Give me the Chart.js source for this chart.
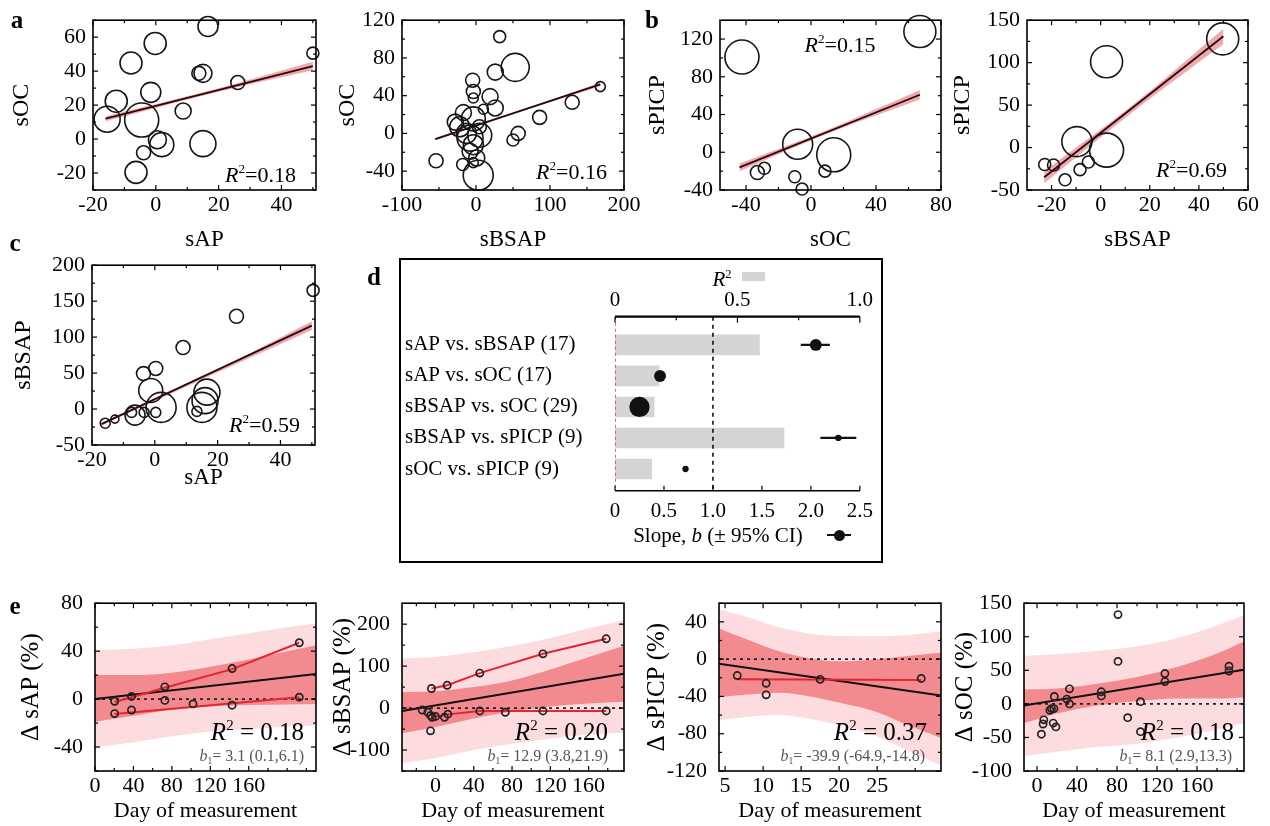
<!DOCTYPE html>
<html><head><meta charset="utf-8">
<script src="https://cdn.jsdelivr.net/npm/chart.js@4/dist/chart.umd.min.js"></script>
<style>
body{margin:0;background:#fff;}
#root{position:relative;width:1270px;height:826px;overflow:hidden;background:#fff;font-family:'Liberation Serif','Times New Roman',Times,serif;color:#000;}
canvas{position:absolute;}
.t{position:absolute;white-space:nowrap;line-height:1;}
.sup{font-size:0.6em;position:relative;top:-0.65em;}
.sub{font-size:0.6em;position:relative;top:0.3em;}
</style></head><body><div id="root"></div>
<script>
// ================= DATA =================
// a (left): sAP vs sOC
const a1_sAP = [-15.5,-12.6,-7.9,-0.2,-1.6,-4.5,0.5,1.9,-3.9,-6.3,8.7,13.7,15,15,16.6,26.1,50];
const a1_sOC = [11.7,22.3,44.8,56.3,27.5,11.2,-0.4,-3.3,-8.1,-19.6,16.5,38.7,38.7,-2.7,66.3,33.3,50.6];
const a1_wt  = [6.5,5.5,5.5,5.5,5,8.5,4.5,6,3.5,5.5,4,3.5,4.5,6.5,5,3.5,3];
const a1_fitX = [-16,50], a1_fitY = [12,43];
const a1_bandX = [-16,17,50], a1_bandLo = [10.5,26.6,40.5], a1_bandHi = [13.5,28.4,45.5];
// a (right): sBSAP vs sOC
const a2_sBSAP = [-54,32,53,26,-4.5,-3.6,-3.6,19,26,-17,-3.6,-28,-22,-13,5,-8,-3.6,-8,1,-18,-3.6,3,50,57,86,130,168,4.5,10];
const a2_sOC   = [-29,102.6,70,65,56.4,44.4,37.6,39,27,22,15.4,12,7,0,-2,-5,-12,-19,-26,-33,-31,-44.4,-7,0,17,33,49.6,7,25.6];
const a2_wt    = [3.5,3,7,4,3.5,3.5,2.5,4,4,4,6,4,5,5,6,6.5,5,4,4,3,2.5,7.5,3,3.5,3.5,3.5,2.5,3.5,2.5];
const a2_fitX = [-55,168], a2_fitY = [-6,52];
const a2_bandX = [-55,56,168], a2_bandLo = [-7.5,22.3,50], a2_bandHi = [-4.5,23.7,54];
// b (left): sOC vs sPICP
const b1_sOC   = [-42.5,67,-8.2,14,-33,-28.7,-10,-5.5,8.6];
const b1_sPICP = [101,128,8.5,-2.7,-21.5,-17,-26,-39,-20];
const b1_wt    = [8.5,8,7.5,8.5,3.5,3,3,3,3];
const b1_fitX = [-44,67], b1_fitY = [-16,61];
const b1_bandX = [-44,11,67], b1_bandLo = [-20,20.5,56], b1_bandHi = [-12,24.5,66];
// b (right): sBSAP vs sPICP
const b2_sBSAP = [2.4,49.7,-9.7,2.4,-22.8,-19.2,-5,-8.4,-14.5];
const b2_sPICP = [101,128,7,-3,-20,-20.5,-17,-26,-38];
const b2_wt    = [8,8,7.5,8.5,3,3,3,3,3];
const b2_fitX = [-23,50], b2_fitY = [-35,131];
const b2_bandX = [-23,13,50], b2_bandLo = [-42,42,122], b2_bandHi = [-28,50,140];
// c: sAP vs sBSAP
const c_sAP   = [-15.8,-12.7,-7.4,-6.3,-3.4,0.3,-3.6,0.3,-1.3,2,9,15,16,16.6,13.4,26,50.4];
const c_sBSAP = [-19.7,-14,-4.7,-8.5,-4.7,-4.7,49.3,56.4,25.8,2.3,85.5,2.3,11.7,23.5,-3.3,129,165];
const c_wt    = [2.5,2,2.5,5,2.5,2.5,3.5,3.5,6,7.5,3.5,7.5,6.5,6.5,2.5,3.5,3];
const c_fitX = [-17,50], c_fitY = [-21,116];
const c_bandX = [-17,16,50], c_bandLo = [-23,43,110], c_bandHi = [-19,46,122];
// d: summary of pairwise regressions
const d_pairs = ['sAP vs. sBSAP','sAP vs. sOC','sBSAP vs. sOC','sBSAP vs. sPICP','sOC vs. sPICP'];
const d_n     = [17,17,29,9,9];
const d_R2    = [0.59,0.18,0.16,0.69,0.15];
const d_slope = [2.05,0.46,0.25,2.28,0.72];
const d_lo    = [1.90,0.42,0.18,2.10,0.70];
const d_hi    = [2.19,0.50,0.32,2.46,0.74];
const d_row   = [1,2,3,4,5];
const d_slopeTicks = [0,0.5,1.0,1.5,2.0,2.5];
const d_r2Ticks = [0,0.5,1.0];
// e1: ΔsAP
const e1_day = [20.4,20.4,38,38,72.7,72.7,102,142.7,142.7,212.6,212.6];
const e1_val = [-1.9,-12.1,2.2,-9.1,10.2,-1.1,-4,25.5,-5.1,47,1.6];
const e1_s1Day = [20.4,38,72.7,142.7,212.6], e1_s1Val = [-2.5,1.5,9.5,25,47];
const e1_s2Day = [20.4,212.6], e1_s2Val = [-12.5,1.5];
const e1_fitDay = [0,230], e1_fitVal = [0,21];
const e1_bDay = [0,40,80,120,160,200,230];
const e1_ciLo = [-19,-14,-9,-6,-5,-4.5,-4];
const e1_ciHi = [20,20,22,27,33,40,45];
const e1_piLo = [-40,-36,-31,-27,-25,-23,-22];
const e1_piHi = [41,42,45,50,55,60,63];
// e2: ΔsBSAP
const e2_day = [-4.2,12.2,46.3,112.3,178.4,-13.9,-8,-5.2,-3.5,0,-5.2,9.4,12.9,46.3,73,112.3,178.4];
const e2_val = [46.7,54.3,83.4,129.3,165.2,-4.6,-10,-17.6,-22,-20,-54.3,-22,-14.5,-6.9,-10,-6.9,-6.9];
const e2_s1Day = [-4.2,12.2,46.3,112.3,178.4], e2_s1Val = [46.7,54.3,83.4,129.3,165.2];
const e2_s2Day = [-5,3,12.9,46.3,178.4], e2_s2Val = [-14,-20,-15,-7,-7];
const e2_fitDay = [-35,197], e2_fitVal = [-7,82];
const e2_bDay = [-35,0,40,80,120,160,197];
const e2_ciLo = [-60,-45,-25,-8,4,11,15];
const e2_ciHi = [38,40,50,66,92,122,148];
const e2_piLo = [-131,-119,-100,-85,-73,-63,-58];
const e2_piHi = [118,122,133,148,167,190,210];
// e3: ΔsPICP
const e3_day = [6.6,10.4,10.4,17.5,30.8];
const e3_val = [-17.6,-25.9,-38.3,-21.7,-20.7];
const e3_s1Day = [6.6,30.8], e3_s1Val = [-21.5,-22.5];
const e3_fitDay = [4.2,33.4], e3_fitVal = [-5,-39];
const e3_bDay = [4.2,8,12,16,20,25,29,33.4];
const e3_ciLo = [-41,-38,-36,-39.7,-46.6,-57,-70.7,-84.5];
const e3_ciHi = [32.8,20.7,8.6,1,-2.4,0,3.4,6.9];
const e3_piLo = [-65.5,-62,-60,-63.8,-70.7,-82.8,-98.3,-113.8];
const e3_piHi = [53.4,44.8,34.5,27.6,24.8,24.5,26,30];
// e4: ΔsOC
const e4_day = [4.4,6.1,6.8,12.9,14.5,16.9,17.3,16.2,18.9,29.8,32.5,32.5,64.3,64.3,81,81,90.7,103.5,103.5,127.9,127.9,192,192];
const e4_val = [-45.2,-30,-23.8,-9.5,-7,-7,11,-28.6,-34.3,7.1,22.4,0,18,11.9,133,63.3,-20.5,3.3,-41.4,45.2,33.3,56.2,49];
const e4_fitDay = [-13,207], e4_fitVal = [-2.4,51];
const e4_bDay = [-13,20,60,100,140,180,207];
const e4_ciLo = [-28.6,-14.3,-2.4,4,8,8,9.5];
const e4_ciHi = [21.4,23,30,40,55,75,93];
const e4_piLo = [-77.6,-71.4,-64.3,-59.5,-50,-38,-28.6];
const e4_piHi = [71.4,73.8,78.6,85.7,97.6,116.7,131.9];

// ================= DRAWING =================
const FONT = "'Liberation Serif','Times New Roman',Times,serif";
Chart.defaults.font.family = FONT;
Chart.defaults.color = '#000';
const root = document.getElementById('root');
const pts = (xs, ys) => xs.map((x, i) => ({x, y: ys[i]}));
const RED = '#e0262e', CI = '#f28a90', PI = '#fcdcde', BAND = 'rgba(236,140,150,0.75)';

const framePlugin = {
  id: 'frame',
  afterDraw(chart, args, o) {
    const ctx = chart.ctx, a = chart.chartArea;
    ctx.save(); ctx.strokeStyle = '#000';
    if (o.box) { ctx.lineWidth = o.lw || 1.5; ctx.strokeRect(a.left, a.top, a.right - a.left, a.bottom - a.top); }
    (o.lines || []).forEach(l => { ctx.lineWidth = l.w; ctx.beginPath(); const y = l.pos === 'top' ? a.top : a.bottom; ctx.moveTo(a.left, y); ctx.lineTo(a.right, y); ctx.stroke(); });
    ctx.lineWidth = 1.2;
    (o.sides || []).forEach(s => {
      const sc = chart.scales[s.scale];
      const mark = (v, len) => {
        const p = sc.getPixelForValue(v); ctx.beginPath();
        if (s.pos === 'bottom') { ctx.moveTo(p, a.bottom); ctx.lineTo(p, a.bottom - len); }
        else if (s.pos === 'top') { ctx.moveTo(p, a.top); ctx.lineTo(p, a.top + len); }
        else if (s.pos === 'left') { ctx.moveTo(a.left, p); ctx.lineTo(a.left + len, p); }
        else { ctx.moveTo(a.right, p); ctx.lineTo(a.right - len, p); }
        ctx.stroke();
      };
      (s.major || []).forEach(v => mark(v, s.len || 5));
      (s.minor || []).forEach(v => mark(v, (s.len || 5) * 0.6));
    });
    ctx.restore();
  }
};

function addCanvas(box) {
  const W = box[2] - box[0], H = box[3] - box[1];
  const cv = document.createElement('canvas'); cv.width = W; cv.height = H;
  Object.assign(cv.style, {left: box[0] + 'px', top: box[1] + 'px', width: W + 'px', height: H + 'px'});
  root.appendChild(cv); return cv;
}

function makeChart(o, datasets) {
  const cv = addCanvas(o.canvas);
  const L = o.plot[0] - o.canvas[0], T = o.plot[1] - o.canvas[1], R = o.canvas[2] - o.plot[2], B = o.canvas[3] - o.plot[3];
  const tick = {font: {size: o.tickSize || 22}, color: '#000', autoSkip: false, maxRotation: 0, minRotation: 0, callback: v => String(v)};
  const sides = [
    {scale: 'x', pos: 'bottom', major: o.xMajor, minor: o.xMinor}, {scale: 'x', pos: 'top', major: o.xMajor, minor: o.xMinor},
    {scale: 'y', pos: 'left', major: o.yMajor, minor: o.yMinor}, {scale: 'y', pos: 'right', major: o.yMajor, minor: o.yMinor}];
  return new Chart(cv, {type: 'line', data: {datasets}, plugins: [framePlugin], options: {
    responsive: false, animation: false, events: [], devicePixelRatio: 1,
    layout: {padding: {left: 0, top: T, right: R, bottom: 0}},
    plugins: {legend: {display: false}, tooltip: {enabled: false}, frame: {box: true, lw: 1.6, sides}},
    scales: {
      x: {type: 'linear', min: o.xr[0], max: o.xr[1], grid: {display: false, drawTicks: false}, border: {display: false},
        afterBuildTicks: s => { s.ticks = o.xMajor.map(v => ({value: v})); }, afterFit: s => { s.height = B; },
        ticks: Object.assign({}, tick, {padding: o.xPad ?? 2}),
        title: {display: true, text: o.xTitle, font: {size: o.xTitleSize || 23}, color: '#000', padding: {top: 0, bottom: o.xTitlePad ?? 2}}},
      y: {type: 'linear', min: o.yr[0], max: o.yr[1], grid: {display: false, drawTicks: false}, border: {display: false},
        afterBuildTicks: s => { s.ticks = o.yMajor.map(v => ({value: v})); }, afterFit: s => { s.width = L; },
        ticks: Object.assign({}, tick, {padding: o.yPad ?? 7}),
        title: {display: true, text: o.yTitle, font: {size: o.yTitleSize || 24}, color: '#000', padding: {top: o.yTitlePad ?? 4, bottom: 0}}}
    }
  }});
}

const circles = (xs, ys, ws) => ({data: pts(xs, ys), showLine: false, pointRadius: c => ws[c.dataIndex] * 2,
  pointBorderColor: '#161616', pointBorderWidth: 1.6, pointBackgroundColor: 'rgba(0,0,0,0)', clip: false});
const dots = (xs, ys) => ({data: pts(xs, ys), showLine: false, pointRadius: 3.6,
  pointBorderColor: '#222', pointBorderWidth: 1.7, pointBackgroundColor: 'rgba(0,0,0,0)', clip: false});
const line = (xs, ys, color, w, dash) => ({data: pts(xs, ys), borderColor: color, borderWidth: w, borderDash: dash || [], pointRadius: 0, fill: false, tension: 0});
const band = (xs, lo, hi, color) => [
  {data: pts(xs, hi), borderColor: 'rgba(0,0,0,0)', borderWidth: 0, pointRadius: 0, backgroundColor: color, fill: '+1', cubicInterpolationMode: 'monotone'},
  {data: pts(xs, lo), borderColor: 'rgba(0,0,0,0)', borderWidth: 0, pointRadius: 0, fill: false, cubicInterpolationMode: 'monotone'}];

function scatterPanel(o, xs, ys, ws, fx, fy, bx, blo, bhi) {
  makeChart(o, [circles(xs, ys, ws), line(fx, fy, '#2b0608', 1.8), ...band(bx, blo, bhi, BAND)]);
}

// ---- a ----
scatterPanel({canvas: [0, 0, 340, 255], plot: [93, 15, 316, 190], xr: [-20, 51], yr: [-30, 70],
  xMajor: [-20, 0, 20, 40], xMinor: [-10, 10, 30, 50], yMajor: [-20, 0, 20, 40, 60], yMinor: [-30, -10, 10, 30, 50, 70],
  xTitle: 'sAP', yTitle: 'sOC', yTitlePad: 7, xTitlePad: 1},
  a1_sAP, a1_sOC, a1_wt, a1_fitX, a1_fitY, a1_bandX, a1_bandLo, a1_bandHi);
scatterPanel({canvas: [328, 0, 648, 255], plot: [402, 15, 624, 190], xr: [-100, 200], yr: [-60, 120],
  xMajor: [-100, 0, 100, 200], xMinor: [-50, 50, 150], yMajor: [-40, 0, 40, 80, 120], yMinor: [-60, -20, 20, 60, 100],
  xTitle: 'sBSAP', yTitle: 'sOC', yTitlePad: 5, xTitlePad: 1},
  a2_sBSAP, a2_sOC, a2_wt, a2_fitX, a2_fitY, a2_bandX, a2_bandLo, a2_bandHi);
// ---- b ----
scatterPanel({canvas: [638, 0, 962, 255], plot: [720, 15, 941, 190], xr: [-56, 80], yr: [-40, 140],
  xMajor: [-40, 0, 40, 80], xMinor: [-20, 20, 60], yMajor: [-40, 0, 40, 80, 120], yMinor: [-20, 20, 60, 100],
  xTitle: 'sOC', yTitle: 'sPICP', yTitlePad: 5, xTitlePad: 1},
  b1_sOC, b1_sPICP, b1_wt, b1_fitX, b1_fitY, b1_bandX, b1_bandLo, b1_bandHi);
scatterPanel({canvas: [945, 0, 1270, 255], plot: [1027, 15, 1248, 190], xr: [-30, 60], yr: [-50, 150],
  xMajor: [-20, 0, 20, 40, 60], xMinor: [-10, 10, 30, 50], yMajor: [-50, 0, 50, 100, 150], yMinor: [-25, 25, 75, 125],
  xTitle: 'sBSAP', yTitle: 'sPICP', yTitlePad: 3, xTitlePad: 1},
  b2_sBSAP, b2_sPICP, b2_wt, b2_fitX, b2_fitY, b2_bandX, b2_bandLo, b2_bandHi);
// ---- c ----
scatterPanel({canvas: [0, 245, 340, 495], plot: [92, 263, 315, 445], xr: [-20, 51], yr: [-50, 200],
  xMajor: [-20, 0, 20, 40], xMinor: [-10, 10, 30, 50], yMajor: [-50, 0, 50, 100, 150, 200], yMinor: [-25, 25, 75, 125, 175],
  xTitle: 'sAP', yTitle: 'sBSAP', yTitlePad: 9, xTitlePad: 3},
  c_sAP, c_sBSAP, c_wt, c_fitX, c_fitY, c_bandX, c_bandLo, c_bandHi);

// ---- e ----
function ePanel(o, day, val, studies, fd, fv, bd, ciLo, ciHi, piLo, piHi) {
  const ds = [dots(day, val)];
  studies.forEach(s => ds.push(line(s[0], s[1], RED, 2)));
  ds.push(line(fd, fv, '#111', 2));
  ds.push(line(o.xr, [0, 0], '#222', 1.6, [3, 4]));
  ds.push(...band(bd, ciLo, ciHi, CI));
  ds.push(...band(bd, piLo, piHi, PI));
  o.xTitleSize = 22; o.yTitleSize = 25; o.yPad = 12; o.xPad = 2; o.tickSize = 22;
  makeChart(o, ds);
}
ePanel({canvas: [0, 578, 330, 826], plot: [95, 596, 316, 771], xr: [0, 230], yr: [-60, 80],
  xMajor: [0, 40, 80, 120, 160], xMinor: [20, 60, 100, 140, 180, 200, 220], yMajor: [-40, 0, 40, 80], yMinor: [-60, -20, 20, 60],
  xTitle: 'Day of measurement', yTitle: 'Δ sAP (%)', yTitlePad: 16, xTitlePad: 2},
  e1_day, e1_val, [[e1_s1Day, e1_s1Val], [e1_s2Day, e1_s2Val]], e1_fitDay, e1_fitVal, e1_bDay, e1_ciLo, e1_ciHi, e1_piLo, e1_piHi);
ePanel({canvas: [325, 578, 640, 826], plot: [402, 596, 624, 771], xr: [-35, 197], yr: [-150, 250],
  xMajor: [0, 40, 80, 120, 160], xMinor: [-20, 20, 60, 100, 140, 180], yMajor: [-100, 0, 100, 200], yMinor: [-150, -50, 50, 150],
  xTitle: 'Day of measurement', yTitle: 'Δ sBSAP (%)', yTitlePad: 3, xTitlePad: 2},
  e2_day, e2_val, [[e2_s1Day, e2_s1Val], [e2_s2Day, e2_s2Val]], e2_fitDay, e2_fitVal, e2_bDay, e2_ciLo, e2_ciHi, e2_piLo, e2_piHi);
ePanel({canvas: [640, 578, 955, 826], plot: [719, 597, 941, 771], xr: [4.2, 33.4], yr: [-120, 60],
  xMajor: [5, 10, 15, 20, 25], xMinor: [30], yMajor: [-120, -80, -40, 0, 40], yMinor: [-100, -60, -20, 20, 60],
  xTitle: 'Day of measurement', yTitle: 'Δ sPICP (%)', yTitlePad: 2, xTitlePad: 2},
  e3_day, e3_val, [[e3_s1Day, e3_s1Val]], e3_fitDay, e3_fitVal, e3_bDay, e3_ciLo, e3_ciHi, e3_piLo, e3_piHi);
ePanel({canvas: [950, 578, 1270, 826], plot: [1024, 595, 1244, 771], xr: [-13, 207], yr: [-100, 150],
  xMajor: [0, 40, 80, 120, 160], xMinor: [20, 60, 100, 140, 180, 200], yMajor: [-100, -50, 0, 50, 100, 150], yMinor: [],
  xTitle: 'Day of measurement', yTitle: 'Δ sOC (%)', yTitlePad: 0, xTitlePad: 2},
  e4_day, e4_val, [], e4_fitDay, e4_fitVal, e4_bDay, e4_ciLo, e4_ciHi, e4_piLo, e4_piHi);

// ---- d ----
(function () {
  const box = document.createElement('div');
  Object.assign(box.style, {position: 'absolute', left: '399px', top: '258px', width: '484px', height: '305px', border: '2px solid #000', boxSizing: 'border-box'});
  root.appendChild(box);
  const canvas = [405, 262, 881, 552], plot = [615, 316.7, 866.7, 490.7];
  const cv = addCanvas(canvas);
  const L = plot[0] - canvas[0], T = plot[1] - canvas[1], R = canvas[2] - plot[2], B = canvas[3] - plot[3];
  const yMin = 0.09, yMax = 5.7;
  const fmt = v => v === 0 ? '0' : v.toFixed(1);
  new Chart(cv, {type: 'bar', plugins: [framePlugin], data: {datasets: [
    {type: 'line', indexAxis: 'x', xAxisID: 'xS', yAxisID: 'y', data: pts(d_slope, d_row), showLine: false,
      pointRadius: c => d_n[c.dataIndex] * 0.35, pointBackgroundColor: '#111', pointBorderColor: '#111', pointBorderWidth: 0, clip: false},
    {type: 'bar', indexAxis: 'y', xAxisID: 'xS', yAxisID: 'y', data: d_row.map((r, i) => ({x: [d_lo[i], d_hi[i]], y: r})),
      backgroundColor: '#111', grouped: false, barThickness: 1.6, maxBarThickness: 1.6},
    {type: 'line', indexAxis: 'x', xAxisID: 'xS', yAxisID: 'y', data: [{x: 1, y: yMin}, {x: 1, y: yMax}], borderColor: '#111', borderWidth: 1.6, borderDash: [4, 4], pointRadius: 0},
    {type: 'line', indexAxis: 'x', xAxisID: 'xS', yAxisID: 'y', data: [{x: 0, y: yMin}, {x: 0, y: yMax}], borderColor: '#d9232b', borderWidth: 1.4, borderDash: [3, 3], pointRadius: 0},
    {type: 'bar', indexAxis: 'y', xAxisID: 'xR2', yAxisID: 'y', data: d_row.map((r, i) => ({x: d_R2[i], y: r})),
      backgroundColor: '#d4d4d4', grouped: false, barThickness: 20, maxBarThickness: 20}
  ]}, options: {
    responsive: false, animation: false, events: [], devicePixelRatio: 1, indexAxis: 'y',
    layout: {padding: {left: 0, top: 0, right: R, bottom: 0}},
    plugins: {legend: {display: false}, tooltip: {enabled: false},
      frame: {box: false, lines: [{pos: 'top', w: 2.2}, {pos: 'bottom', w: 1.6}],
        sides: [{scale: 'xS', pos: 'bottom', major: d_slopeTicks, len: 5}, {scale: 'xR2', pos: 'top', major: d_r2Ticks, minor: [0.25, 0.75], len: 6}]}},
    scales: {
      y: {type: 'linear', position: 'left', reverse: true, min: yMin, max: yMax, offset: false, grid: {display: false, drawTicks: false}, border: {display: false},
        afterBuildTicks: s => { s.ticks = d_row.map(v => ({value: v})); }, afterFit: s => { s.width = L; },
        ticks: {font: {size: 21}, color: '#000', crossAlign: 'far', padding: 0, autoSkip: false, callback: v => d_pairs[v - 1] + ' (' + d_n[v - 1] + ')'}},
      xS: {type: 'linear', position: 'bottom', min: 0, max: 2.5, grid: {display: false, drawTicks: false}, border: {display: false},
        afterBuildTicks: s => { s.ticks = d_slopeTicks.map(v => ({value: v})); }, afterFit: s => { s.height = B; },
        ticks: {font: {size: 21}, color: '#000', padding: 8, autoSkip: false, maxRotation: 0, callback: fmt}},
      xR2: {type: 'linear', position: 'top', min: 0, max: 1, grid: {display: false, drawTicks: false}, border: {display: false},
        afterBuildTicks: s => { s.ticks = d_r2Ticks.map(v => ({value: v})); }, afterFit: s => { s.height = T; },
        ticks: {font: {size: 21}, color: '#000', padding: 4, autoSkip: false, maxRotation: 0, callback: fmt}}
    }
  }});
})();

// ================= TEXT =================
function txt(html, x, y, size, ax, ay, extra) {
  const d = document.createElement('div'); d.className = 't'; d.innerHTML = html;
  d.style.fontSize = size + 'px'; d.style.left = x + 'px'; d.style.top = y + 'px';
  d.style.transform = `translate(${-ax * 100}%,${-ay * 100}%)`;
  if (extra) Object.assign(d.style, extra);
  root.appendChild(d); return d;
}
const r2 = v => `<i>R</i><span class="sup">2</span>=${v}`;
const r2e = v => `<i>R</i><span class="sup">2</span> = ${v}`;
const b1 = s => `<i>b</i><span class="sub">1</span>= ${s}`;
// panel letters
txt('a', 17, 19, 25, 0.5, 0.5, {fontWeight: 'bold'});
txt('b', 652, 19, 25, 0.5, 0.5, {fontWeight: 'bold'});
txt('c', 15, 242, 25, 0.5, 0.5, {fontWeight: 'bold'});
txt('d', 374, 276, 25, 0.5, 0.5, {fontWeight: 'bold'});
txt('e', 15, 605, 25, 0.5, 0.5, {fontWeight: 'bold'});
// R2 annotations
txt(r2('0.18'), 296, 175, 22, 1, 0.5);
txt(r2('0.16'), 607, 172, 22, 1, 0.5);
txt(r2('0.15'), 840, 45, 22, 0.5, 0.5);
txt(r2('0.69'), 1227, 170, 22, 1, 0.5);
txt(r2('0.59'), 300, 425, 22, 1, 0.5);
// e annotations
txt(r2e('0.18'), 304, 731, 25, 1, 0.5);
txt(b1('3.1 (0.1,6.1)'), 304, 756, 16, 1, 0.5, {color: '#555'});
txt(r2e('0.20'), 608, 731, 25, 1, 0.5);
txt(b1('12.9 (3.8,21.9)'), 608, 756, 16, 1, 0.5, {color: '#555'});
txt(r2e('0.37'), 927, 731, 25, 1, 0.5);
txt(b1('-39.9 (-64.9,-14.8)'), 925, 756, 16, 1, 0.5, {color: '#555'});
txt(r2e('0.18'), 1234, 731, 25, 1, 0.5);
txt(b1('8.1 (2.9,13.3)'), 1232, 756, 16, 1, 0.5, {color: '#555'});
// d legend
txt(`<i>R</i><span class="sup">2</span>`, 722, 279, 21, 0.5, 0.5);
const sw = document.createElement('div');
Object.assign(sw.style, {position: 'absolute', left: '742px', top: '272px', width: '23px', height: '9px', background: '#d4d4d4'});
root.appendChild(sw);
txt('Slope, <i>b</i> (± 95% CI)', 718, 535, 21, 0.5, 0.5);
const lg = document.createElement('div');
Object.assign(lg.style, {position: 'absolute', left: '827px', top: '534px', width: '24px', height: '2px', background: '#111'});
root.appendChild(lg);
const lgd = document.createElement('div');
Object.assign(lgd.style, {position: 'absolute', left: '834px', top: '530px', width: '11px', height: '11px', borderRadius: '50%', background: '#111'});
root.appendChild(lgd);
</script></body></html>
